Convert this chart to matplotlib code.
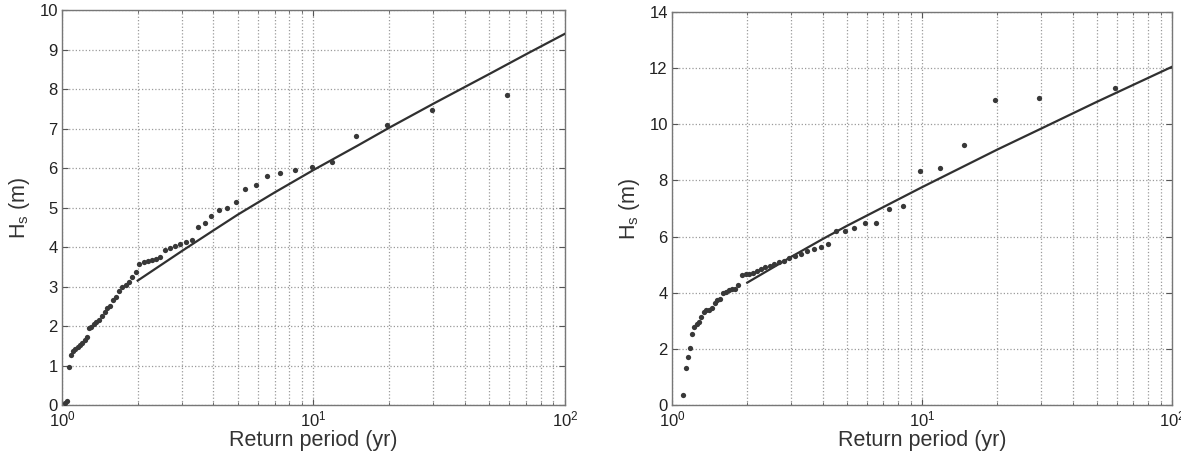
import numpy as np
import matplotlib.pyplot as plt
from matplotlib.ticker import LogLocator, NullFormatter

# empirical return periods (yr) and observed Hs (m), left panel
t_left = [59.0, 29.5, 19.67, 14.75, 11.8, 9.83, 8.43, 7.38, 6.56, 5.9,
          5.36, 4.92, 4.54, 4.21, 3.93, 3.69, 3.47, 3.28, 3.11, 2.95,
          2.81, 2.68, 2.57, 2.46, 2.36, 2.27, 2.19, 2.11, 2.03, 1.97,
          1.9, 1.84, 1.79, 1.74, 1.69, 1.64, 1.6, 1.55, 1.51, 1.48,
          1.44, 1.4, 1.37, 1.34, 1.31, 1.28, 1.26, 1.23, 1.2, 1.18,
          1.16, 1.13, 1.11, 1.09, 1.07, 1.05, 1.03]
hs_left = [7.85, 7.47, 7.09, 6.82, 6.14, 6.03, 5.95, 5.87, 5.81, 5.57,
           5.46, 5.15, 4.98, 4.94, 4.79, 4.62, 4.5, 4.18, 4.13, 4.08,
           4.03, 3.97, 3.92, 3.74, 3.7, 3.67, 3.64, 3.62, 3.58, 3.38,
           3.25, 3.12, 3.04, 3.0, 2.88, 2.73, 2.65, 2.5, 2.45, 2.35,
           2.25, 2.15, 2.1, 2.05, 1.98, 1.94, 1.73, 1.65, 1.56, 1.52,
           1.48, 1.43, 1.38, 1.27, 0.97, 0.11, 0.04]

# fitted curve, left panel
fit_t_left = [2, 3, 4, 5, 7, 10, 15, 20, 30, 50, 70, 100]
fit_hs_left = [3.15, 3.9, 4.42, 4.82, 5.38, 5.95, 6.57, 7.02, 7.63, 8.38, 8.88, 9.4]

# right panel
t_right = [59.0, 29.5, 19.67, 14.75, 11.8, 9.83, 8.43, 7.38, 6.56, 5.9,
           5.36, 4.92, 4.54, 4.21, 3.93, 3.69, 3.47, 3.28, 3.11, 2.95,
           2.81, 2.68, 2.57, 2.46, 2.36, 2.27, 2.19, 2.11, 2.03, 1.97,
           1.9, 1.84, 1.79, 1.74, 1.69, 1.64, 1.6, 1.55, 1.51, 1.48,
           1.44, 1.4, 1.37, 1.34, 1.31, 1.28, 1.26, 1.23, 1.2, 1.18,
           1.16, 1.135, 1.11]
hs_right = [11.28, 10.93, 10.87, 9.26, 8.45, 8.34, 7.1, 7.0, 6.5, 6.47,
            6.29, 6.21, 6.21, 5.72, 5.64, 5.56, 5.49, 5.38, 5.31, 5.23,
            5.14, 5.1, 5.02, 4.95, 4.9, 4.85, 4.78, 4.72, 4.68, 4.65,
            4.62, 4.27, 4.15, 4.12, 4.08, 4.04, 3.98, 3.78, 3.74, 3.62,
            3.44, 3.4, 3.38, 3.32, 3.15, 2.97, 2.88, 2.77, 2.52, 2.04,
            1.72, 1.33, 0.36]

fit_t_right = [2, 3, 4, 5, 7, 10, 20, 30, 50, 100]
fit_hs_right = [4.36, 5.28, 5.91, 6.38, 7.05, 7.76, 9.1, 9.85, 10.8, 12.05]

plt.rcParams['font.family'] = ['Liberation Sans', 'DejaVu Sans']

fig = plt.figure(figsize=(11.81, 4.58), dpi=100)
ax1 = fig.add_axes([0.0525, 0.1157, 0.4259, 0.8624])
ax2 = fig.add_axes([0.569, 0.1157, 0.4234, 0.858])

panels = [
    (ax1, t_left, hs_left, fit_t_left, fit_hs_left, 10, 1),
    (ax2, t_right, hs_right, fit_t_right, fit_hs_right, 14, 2),
]

for ax, t, hs, ft, fh, ymax, ystep in panels:
    ax.set_xscale('log')
    ax.plot(ft, fh, color='#303030', lw=1.6, zorder=3)
    ax.plot(t, hs, 'o', color='#383838', ms=3.8, mec='none', zorder=4)
    ax.set_xlim(1, 100)
    ax.set_ylim(0, ymax)
    ax.set_yticks(np.arange(0, ymax + 0.1, ystep))
    ax.xaxis.set_major_locator(LogLocator(base=10, numticks=5))
    ax.xaxis.set_minor_locator(LogLocator(base=10, subs=np.arange(2, 10), numticks=20))
    ax.xaxis.set_minor_formatter(NullFormatter())
    ax.grid(True, which='major', ls=':', color='#9a9a9a', lw=0.9)
    ax.grid(True, which='minor', axis='x', ls=':', color='#9a9a9a', lw=0.9)
    ax.tick_params(which='both', direction='in', top=True, right=True,
                   labelsize=12, color='#555555', labelcolor='#222222', pad=3)
    ax.tick_params(which='major', length=4)
    ax.tick_params(which='minor', length=2.5)
    for s in ax.spines.values():
        s.set_color('#777777')
        s.set_linewidth(1.0)
    ax.set_xlabel('Return period (yr)', fontsize=15.5, color='#333333', labelpad=1)
    ax.set_ylabel(r'H$_\mathregular{s}$ (m)', fontsize=15.5, color='#333333', labelpad=5)

fig.savefig('out.png', dpi=100)
